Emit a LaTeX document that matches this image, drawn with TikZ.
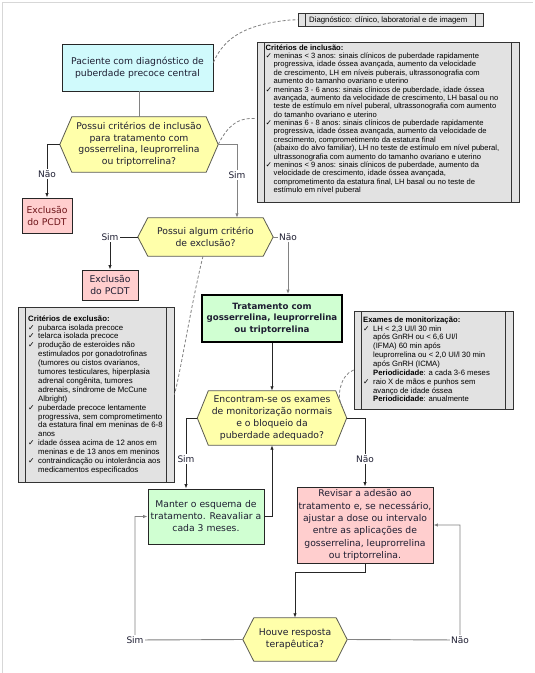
\documentclass[tikz,border=0pt]{standalone}
\usepackage{fontspec}
\setmainfont{DejaVu Sans}
\newfontfamily\critfont{Liberation Sans}
\newfontfamily\chkfont{DejaVu Sans}
\usetikzlibrary{arrows.meta,calc}
\pgfdeclarelayer{background}
\pgfsetlayers{background,main}
\definecolor{cyanfill}{RGB}{208,250,252}
\definecolor{yelfill}{RGB}{255,255,170}
\definecolor{pinkfill}{RGB}{255,206,206}
\definecolor{greenfill}{RGB}{208,255,210}
\definecolor{critfill}{RGB}{226,226,226}
\definecolor{txt}{RGB}{30,30,50}
\definecolor{excred}{RGB}{110,20,25}
\definecolor{glink}{RGB}{130,130,130}
\definecolor{framec}{RGB}{215,215,215}
\definecolor{hexline}{RGB}{90,90,80}
\newcommand{\ckA}{\makebox[8pt][l]{\chkfont ✓}}
\newcommand{\inA}{\hspace*{8pt}}
\newcommand{\ckB}{\makebox[10pt][l]{\chkfont ✓}}
\newcommand{\inB}{\hspace*{10pt}}
\newcommand{\drawhexa}[2]{%
  \begin{pgfonlayer}{background}
  \path[hexdraw] (#1.west) -- ([xshift=#2]#1.north west) -- ([xshift=-#2]#1.north east)
     -- (#1.east) -- ([xshift=-#2]#1.south east) -- ([xshift=#2]#1.south west) -- cycle;
  \end{pgfonlayer}}
\tikzset{
  box/.style={draw=black!85, line width=0.8pt, text=txt, align=center, inner sep=0pt,
    font=\fontsize{9.25}{12}\selectfont},
  hexlabel/.style={text=txt, align=center, inner sep=0pt, font=\fontsize{9.25}{12}\selectfont},
  hexdraw/.style={draw=hexline, fill=yelfill, line width=0.8pt, line join=miter},
  crit/.style={draw=black!80, fill=critfill, line width=0.8pt, inner sep=0pt,
    path picture={\draw[black!80, line width=0.8pt]
      ([xshift=7.5pt]path picture bounding box.north west) -- ([xshift=7.5pt]path picture bounding box.south west)
      ([xshift=-7.5pt]path picture bounding box.north east) -- ([xshift=-7.5pt]path picture bounding box.south east);}},
  crittext/.style={anchor=north west, inner sep=0pt, align=left, text=black},
  lbl/.style={fill=white, inner sep=1.5pt, text=txt, font=\fontsize{9}{11}\selectfont},
  glinkst/.style={draw=glink, line width=0.9pt},
  blinkst/.style={draw=black!85, line width=0.8pt},
  arr/.style={-{Latex[length=4.5pt,width=3.4pt]}},
  annot/.style={draw=glink, line width=0.8pt, dash pattern=on 3pt off 2pt}
}
\begin{document}
\begin{tikzpicture}[x=1pt,y=-1pt]
\useasboundingbox (0,0) rectangle (535,673);
\begin{pgfonlayer}{background}
\fill[white] (0,0) rectangle (535,673);
\end{pgfonlayer}
\draw[framec, line width=0.8pt] (2.5,673) -- (2.5,2.5) -- (533,2.5);

% criteria boxes
\node[crit, minimum width=185pt, minimum height=13.5pt] (diag) at (390.5,19.75) {};
\node[anchor=west, inner sep=0pt, text=black, font=\critfont\fontsize{7.8}{9}\selectfont] (diagt) at (309,20.5) {Diagnóstico: clínico, laboratorial e de imagem};

\node[crit, minimum width=262pt, minimum height=160pt] (incl) at (388,122) {};
\node[crittext, font=\critfont\fontsize{7.6}{8.39}\selectfont] (inclt) at (265.5,44.3) {%
{\bfseries Critérios de inclusão:}\\
\ckA meninas < 3 anos: sinais clínicos de puberdade rapidamente\\
\inA progressiva, idade óssea avançada, aumento da velocidade\\
\inA de crescimento, LH em níveis puberais, ultrassonografia com\\
\inA aumento do tamanho ovariano e uterino\\
\ckA meninas 3 - 6 anos: sinais clínicos de puberdade, idade óssea\\
\inA avançada, aumento da velocidade de crescimento, LH basal ou no\\
\inA teste de estímulo em nível puberal, ultrassonografia com aumento\\
\inA do tamanho ovariano e uterino\\
\ckA meninas 6 - 8 anos: sinais clínicos de puberdade rapidamente\\
\inA progressiva, idade óssea avançada, aumento da velocidade de\\
\inA crescimento, comprometimento da estatura final\\
\inA (abaixo do alvo familiar), LH no teste de estímulo em nível puberal,\\
\inA ultrassonografia com aumento do tamanho ovariano e uterino\\
\ckA meninos < 9 anos: sinais clínicos de puberdade, aumento da\\
\inA velocidade de crescimento, idade óssea avançada,\\
\inA comprometimento da estatura final, LH basal ou no teste de\\
\inA estímulo em nível puberal};

\node[crit, minimum width=156pt, minimum height=175pt] (excl) at (96,394.5) {};
\node[crittext, font=\critfont\fontsize{7.8}{8.9}\selectfont] (exclt) at (28,315.2) {%
{\bfseries Critérios de exclusão:}\\
\ckB pubarca isolada precoce\\
\ckB telarca isolada precoce\\
\ckB produção de esteroides não\\
\inB estimulados por gonadotrofinas\\
\inB (tumores ou cistos ovarianos,\\
\inB tumores testiculares, hiperplasia\\
\inB adrenal congênita, tumores\\
\inB adrenais, síndrome de McCune\\
\inB Albright)\\
\ckB puberdade precoce lentamente\\
\inB progressiva, sem comprometimento\\
\inB da estatura final em meninas de 6-8\\
\inB anos\\
\ckB idade óssea acima de 12 anos em\\
\inB meninas e de 13 anos em meninos\\
\ckB contraindicação ou intolerância aos\\
\inB medicamentos especificados};

\node[crit, minimum width=159pt, minimum height=98pt] (mon) at (433.5,360) {};
\node[crittext, font=\critfont\fontsize{7.7}{8.85}\selectfont] (mont) at (363,316.5) {%
{\bfseries Exames de monitorização:}\\
\ckB LH < 2,3 UI/l 30 min\\
\inB após GnRH ou < 6,6 UI/l\\
\inB (IFMA) 60 min após\\
\inB leuprorrelina ou < 2,0 UI/l 30 min\\
\inB após GnRH (ICMA)\\
\inB {\bfseries Periodicidade}: a cada 3-6 meses\\
\ckB raio X de mãos e punhos sem\\
\inB avanço de idade óssea\\
\inB {\bfseries Periodicidade}: anualmente};

% flow nodes
\node[box, fill=cyanfill, minimum width=151pt, minimum height=47pt] (pac) at (137.5,67.5)
  {Paciente com diagnóstico de\\puberdade precoce central};
\node[hexlabel, minimum width=158pt, minimum height=55pt, font=\fontsize{9.25}{11.5}\selectfont] (h1) at (139,144.5)
  {Possui critérios de inclusão\\para tratamento com\\gosserrelina, leuprorrelina\\ou triptorrelina?};
\drawhexa{h1}{12pt}
\node[box, fill=pinkfill, text=excred, minimum width=50pt, minimum height=35pt] (exc1) at (47,215.5) {Exclusão\\do PCDT};
\node[hexlabel, minimum width=135pt, minimum height=38pt] (h2) at (205.5,237) {Possui algum critério\\de exclusão?};
\drawhexa{h2}{10pt}
\node[box, fill=pinkfill, minimum width=56pt, minimum height=30pt] (exc2) at (110,285) {Exclusão\\do PCDT};
\node[box, fill=greenfill, draw=black, line width=1.8pt, minimum width=140pt, minimum height=47pt,
  font=\bfseries\fontsize{8.65}{11.5}\selectfont] (trat) at (272,318.5)
  {Tratamento com\\gosserrelina, leuprorrelina\\ou triptorrelina};
\node[hexlabel, minimum width=149pt, minimum height=54pt, font=\fontsize{9.25}{12.2}\selectfont] (h3) at (272,418)
  {Encontram-se os exames\\de monitorização normais\\e o bloqueio da\\puberdade adequado?};
\drawhexa{h3}{11pt}
\node[box, fill=greenfill, minimum width=116pt, minimum height=55pt] (man) at (206,516.5)
  {Manter o esquema de\\tratamento. Reavaliar a\\cada 3 meses.};
\node[box, fill=pinkfill, minimum width=136pt, minimum height=76pt, font=\fontsize{9.25}{12.4}\selectfont] (rev) at (365,525)
  {Revisar a adesão ao\\tratamento e, se necessário,\\ajustar a dose ou intervalo\\entre as aplicações de\\gosserrelina, leuprorrelina\\ou triptorrelina.};
\node[hexlabel, minimum width=104pt, minimum height=43pt] (h4) at (295,639.5) {Houve resposta\\terapêutica?};
\drawhexa{h4}{11pt}

% connectors
\draw[glinkst] (h1.north |- pac.south) -- (h1.north);
\draw[blinkst, arr] (h1.west) -| (exc1.north) node[lbl, pos=0.78] {Não};
\draw[glinkst, arr] (h1.east) -| ($(h2.north)+(31.5,0)$) node[lbl, pos=0.71] {Sim};
\draw[blinkst, arr] (h2.west) -| (exc2.north) node[lbl, pos=0.5] {Sim};
\node[inner sep=1pt, text=txt, font=\fontsize{9}{11}\selectfont] (nao2) at (288,237) {Não};
\draw[glinkst] (h2.east) -- (nao2.west);
\draw[glinkst, arr] (nao2.south) -- (nao2.south |- trat.north);
\draw[blinkst, arr] (trat.south) -- (h3.north);
\draw[blinkst, arr] (h3.west) -| ($(man.north)+(-20,0)$) node[lbl, pos=0.79] {Sim};
\draw[blinkst, arr] (h3.east) -| (rev.north) node[lbl, pos=0.8] {Não};
\draw[blinkst, arr] (man.east) -| (h3.south);
\draw[blinkst, arr] (rev.south) -- ++(0,9) -| (h4.north);
\coordinate (simc) at (135,640);
\coordinate (naoc) at (460,640);
\draw[glinkst, arr] (h4.west) -- (simc) |- (man.west);
\node[lbl] at (simc) {Sim};
\draw[glinkst, arr] (h4.east) -- (naoc) |- (rev.east);
\node[lbl] at (naoc) {Não};

% annotation links
\draw[annot] ([yshift=5pt]pac.east) .. controls (225,35) and (250,24) .. (290,20) -- (diag.west);
\draw[annot] (h1.east) .. controls (228,125) and (238,119) .. (250,118.5) -- ([yshift=3.5pt]incl.west);
\draw[annot] ([xshift=-2.5pt]h2.south) .. controls (192,300) and (180,375) .. (excl.east);
\draw[annot] ([yshift=-10pt]mon.west) .. controls (340,375) and (336,398) .. ($([xshift=-11pt]h3.north east)!0.6!(h3.east)$);
\end{tikzpicture}
\end{document}
